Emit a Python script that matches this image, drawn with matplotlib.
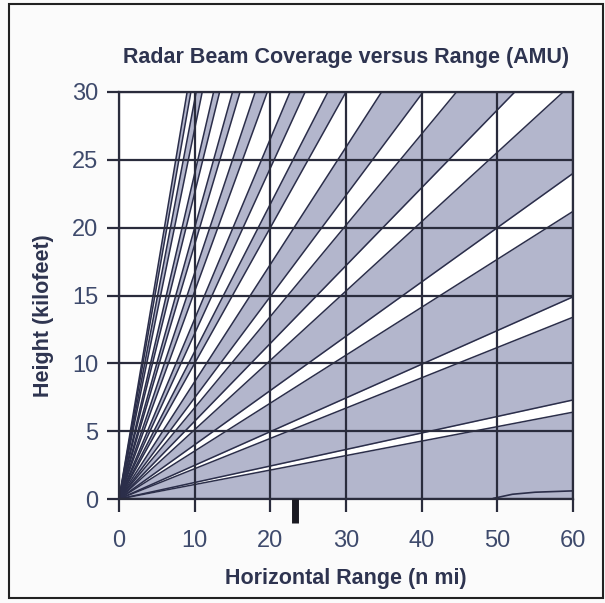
import matplotlib.pyplot as plt
import matplotlib.patches as patches

# beam edges: point where each edge line leaves the plot (line starts at origin)
lower_x = [60, 60, 60, 60, 52.3, 40.2, 30.0, 24.6, 19.6, 16.0, 13.3, 11.0, 9.5]
lower_y = [0.0, 7.3, 14.9, 24.0, 30, 30, 30, 30, 30, 30, 30, 30, 30]
upper_x = [60, 60, 60, 58.7, 44.6, 34.7, 27.6, 22.6, 18.0, 15.0, 12.5, 10.2, 9.0]
upper_y = [6.4, 13.4, 21.2, 30, 30, 30, 30, 30, 30, 30, 30, 30, 30]

# short line near the ground at long range
ground_x = [49.5, 52, 55, 60]
ground_y = [0.05, 0.35, 0.5, 0.6]

marker_x = 23.2

xticks = [0, 10, 20, 30, 40, 50, 60]
yticks = [0, 5, 10, 15, 20, 25, 30]

fill_col = '#b3b6cc'
line_col = '#2b2e4a'
grid_col = '#2a2c3c'
text_col = '#2e3450'
tick_col = '#3e4a6c'

plt.rcParams['font.family'] = ['Liberation Sans', 'DejaVu Sans']

fig = plt.figure(figsize=(6.05, 6.03), dpi=100)
fig.patch.set_facecolor('#fbfbfb')
ax = fig.add_axes([119/605, 1 - 499/603, 454/605, 407/603])
ax.set_facecolor('white')

for lx, ly, ux, uy in zip(lower_x, lower_y, upper_x, upper_y):
    # extend both edges to x=60 so fill_between can use the same x
    lo60 = ly * 60 / lx
    hi60 = uy * 60 / ux
    ax.fill_between([0, 60], [0, lo60], [0, hi60], color=fill_col, lw=0, zorder=1)

for lx, ly, ux, uy in zip(lower_x, lower_y, upper_x, upper_y):
    ax.plot([0, lx], [0, ly], color=line_col, lw=1.1, zorder=2)
    ax.plot([0, ux], [0, uy], color=line_col, lw=1.1, zorder=2)

ax.plot(ground_x, ground_y, color=line_col, lw=1.2, zorder=2)

ax.set_xlim(0, 60)
ax.set_ylim(0, 30)
ax.set_xticks(xticks)
ax.set_yticks(yticks)
ax.grid(True, color=grid_col, lw=1.6, zorder=3)
ax.set_axisbelow(False)

for s in ax.spines.values():
    s.set_color(grid_col)
    s.set_linewidth(1.6)
    s.set_zorder(4)

ax.tick_params(direction='out', length=9, width=1.6, color=grid_col,
               labelsize=17, labelcolor=tick_col)
ax.tick_params(axis='x', pad=13)
ax.tick_params(axis='y', pad=6)

# thick marker below the axis
ax.plot([marker_x, marker_x], [0, -1.75], color='#1a1a22', lw=5, solid_capstyle='butt',
        clip_on=False, zorder=5)

ax.set_title('Radar Beam Coverage versus Range (AMU)', fontsize=15.5, fontweight='bold',
             color=text_col, pad=21)
ax.set_xlabel('Horizontal Range (n mi)', fontsize=15.5, fontweight='bold', color=text_col,
              labelpad=12)
ax.set_ylabel('Height (kilofeet)', fontsize=15.5, fontweight='bold', color=text_col)
ax.yaxis.set_label_coords(-0.143, 0.45)

fig.add_artist(patches.Rectangle((0.015, 0.008), 0.982, 0.986, transform=fig.transFigure,
                                 fill=False, ec='#222222', lw=1.5))

fig.savefig('out.png', dpi=100)
